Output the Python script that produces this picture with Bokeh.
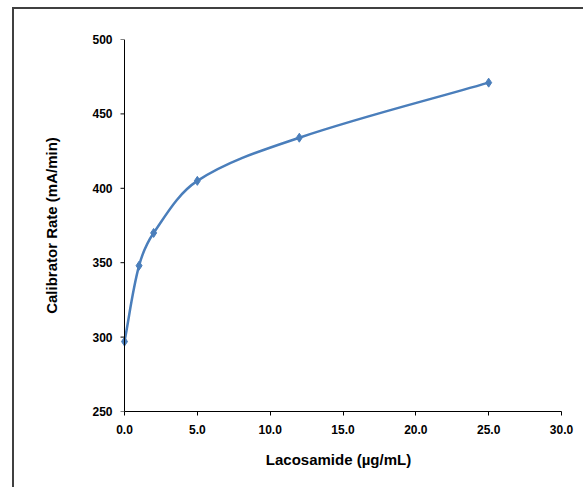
import math
from bokeh.plotting import figure
from bokeh.embed import file_html
from bokeh.resources import INLINE
from bokeh.models import FixedTicker, CustomJSTickFormatter, Span

# Data
conc = [0, 1, 2, 5, 12, 25]          # Lacosamide (µg/mL)
rate = [297, 348, 370, 405, 434, 471]  # Calibrator Rate (mA/min)
x_ticks = [0, 5, 10, 15, 20, 25, 30]
y_ticks = [250, 300, 350, 400, 450, 500]

FONT = "Liberation Sans"
LINE = "#4a7ebb"

FW, FH = 437, 372
PAD = 9  # extra frame pixels left of x=0 so the first marker is not clipped
XMIN, XMAX = 0, 30
sx = FW / (XMAX - XMIN)
XR = (XMIN - PAD / sx, XMAX)
YR = (250, 500)
TICK = 4

p = figure(
    output_backend="svg", toolbar_location=None,
    frame_width=FW + PAD, frame_height=FH,
    min_border_left=110 - PAD, min_border_right=22, min_border_top=30, min_border_bottom=76,
    x_range=XR, y_range=YR,
    background_fill_color="white", border_fill_color="white",
    outline_line_color=None,
    styles={"border-left": "2px solid #404040", "border-top": "2px solid #404040",
            "margin-left": "12px", "margin-top": "7px"},
)

# y axis line and ticks drawn at x = 0 (the frame starts a little left of it)
p.add_layout(Span(location=XMIN, dimension="height", line_color="black", line_width=1))
p.segment(x0=[XMIN] * len(y_ticks), x1=[XMIN - TICK / sx] * len(y_ticks),
          y0=y_ticks, y1=y_ticks, line_color="black", line_width=1)

# Smoothed line through the points (chord-length scaled Bezier, computed in pixel space)
sy = FH / (YR[1] - YR[0])
P = [(x * sx, y * sy) for x, y in zip(conc, rate)]
n = len(P)

def unit(a, b):
    dx, dy = b[0] - a[0], b[1] - a[1]
    d = math.hypot(dx, dy) or 1.0
    return dx / d, dy / d

tang = []
for i in range(n):
    a = P[max(i - 1, 0)]
    b = P[min(i + 1, n - 1)]
    tang.append(unit(a, b))

x0, y0, x1, y1, cx0, cy0, cx1, cy1 = [], [], [], [], [], [], [], []
for i in range(n - 1):
    L = math.hypot(P[i + 1][0] - P[i][0], P[i + 1][1] - P[i][1]) / 3.0
    c0 = (P[i][0] + tang[i][0] * L, P[i][1] + tang[i][1] * L)
    c1 = (P[i + 1][0] - tang[i + 1][0] * L, P[i + 1][1] - tang[i + 1][1] * L)
    x0.append(conc[i]); y0.append(rate[i])
    x1.append(conc[i + 1]); y1.append(rate[i + 1])
    cx0.append(c0[0] / sx); cy0.append(c0[1] / sy)
    cx1.append(c1[0] / sx); cy1.append(c1[1] / sy)

p.bezier(x0=x0, y0=y0, x1=x1, y1=y1, cx0=cx0, cy0=cy0, cx1=cx1, cy1=cy1,
         line_color=LINE, line_width=2.5)
p.scatter(conc, rate, marker="diamond", size=9, fill_color=LINE, line_color=LINE)

p.xgrid.visible = False
p.ygrid.visible = False

for ax in (p.xaxis[0], p.yaxis[0]):
    ax.axis_line_color = "black"
    ax.axis_line_width = 1
    ax.major_tick_line_color = "black"
    ax.major_tick_out = TICK
    ax.major_tick_in = 0
    ax.minor_tick_line_color = None
    ax.major_label_text_font = FONT
    ax.major_label_text_font_style = "bold"
    ax.major_label_text_font_size = "12px"
    ax.major_label_text_color = "black"
    ax.axis_label_text_font = FONT
    ax.axis_label_text_font_style = "bold"
    ax.axis_label_text_font_size = "15px"
    ax.axis_label_text_color = "black"

# left axis keeps the labels and title; its line/ticks are drawn above at x = 0
p.yaxis.axis_line_color = None
p.yaxis.major_tick_line_color = None
p.yaxis.major_tick_out = 0
p.xaxis.bounds = (XMIN, XMAX)
p.xaxis.ticker = FixedTicker(ticks=x_ticks)
p.yaxis.ticker = FixedTicker(ticks=y_ticks)
p.xaxis.formatter = CustomJSTickFormatter(code="return tick.toFixed(1);")
p.xaxis.axis_label = "Lacosamide (µg/mL)"
p.yaxis.axis_label = "Calibrator Rate (mA/min)"
p.xaxis.major_label_standoff = 9
p.yaxis.major_label_standoff = 8 + TICK - PAD
p.xaxis.axis_label_standoff = 14
p.yaxis.axis_label_standoff = 29

open("out.html", "w").write(file_html(p, INLINE))
